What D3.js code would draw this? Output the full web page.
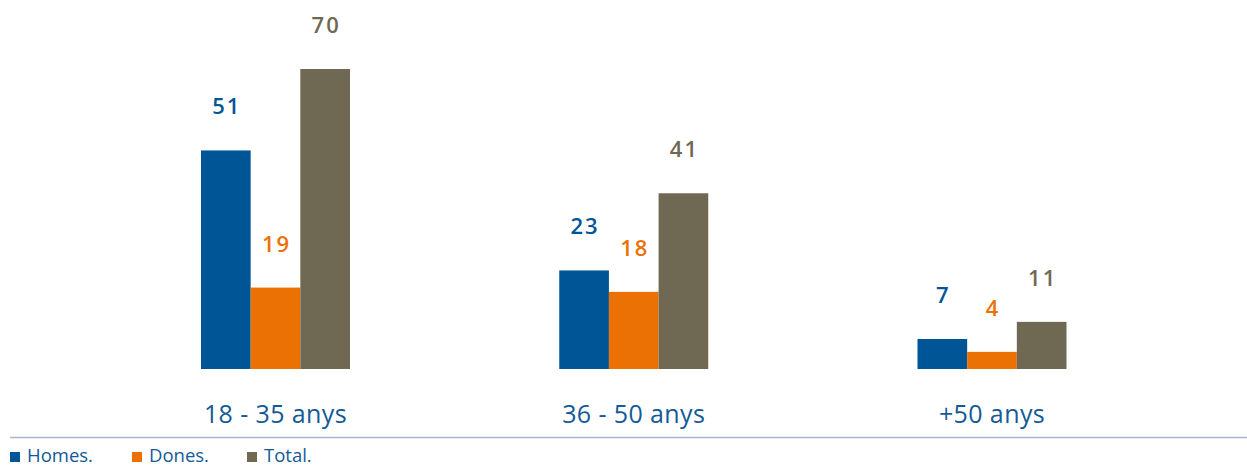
<!DOCTYPE html>
<html><head><meta charset="utf-8">
<script src="https://cdn.jsdelivr.net/npm/d3@7"></script>
<style>body{margin:0;background:#fff;} svg{display:block;font-family:"Open Sans",sans-serif;}</style>
</head><body>
<svg id="c" width="1247" height="467"></svg>
<script>
const categories = ["18 - 35 anys", "36 - 50 anys", "+50 anys"];
const seriesNames = ["Homes.", "Dones.", "Total."];
const homes = [51, 23, 7];
const dones = [19, 18, 4];
const total = [70, 41, 11];
const colors = ["#005596", "#ec7105", "#6f6853"];

const svg = d3.select("#c");
const baseline = 369;
const y = d3.scaleLinear().domain([0, 70]).range([baseline, 69]);
const x0 = d3.scalePoint().domain(categories).range([275.5, 992]);
const x1 = d3.scaleBand().domain(seriesNames).range([0, 149]);
const series = [homes, dones, total];

categories.forEach((c, i) => {
  const cx = x0(c);
  const g = svg.append("g").attr("transform", `translate(${cx - 74.5},0)`);
  seriesNames.forEach((s, j) => {
    const v = series[j][i];
    g.append("rect").attr("x", x1(s)).attr("width", x1.bandwidth())
      .attr("y", y(v)).attr("height", baseline - y(v)).attr("fill", colors[j]);
    g.append("text").attr("x", x1(s) + x1.bandwidth() / 2 + 1).attr("y", y(v) - 36)
      .attr("text-anchor", "middle").attr("font-size", 22).attr("font-weight", 600)
      .attr("letter-spacing", 2).attr("fill", colors[j]).text(v);
  });
  svg.append("text").attr("x", cx).attr("y", 423).attr("text-anchor", "middle")
    .attr("font-size", 25).attr("letter-spacing", 0.4).attr("fill", "#135a97").text(c);
});

svg.append("line").attr("x1", 10).attr("x2", 1247).attr("y1", 437.5).attr("y2", 437.5)
  .attr("stroke", "#a9b6d0").attr("stroke-width", 1.5);

const legX = [10, 132, 247];
seriesNames.forEach((s, j) => {
  svg.append("rect").attr("x", legX[j]).attr("y", 452).attr("width", 10).attr("height", 10).attr("fill", colors[j]);
  svg.append("text").attr("x", legX[j] + 17).attr("y", 462).attr("font-size", 18.5).attr("fill", "#135a97").text(s);
});
</script>
</body></html>
